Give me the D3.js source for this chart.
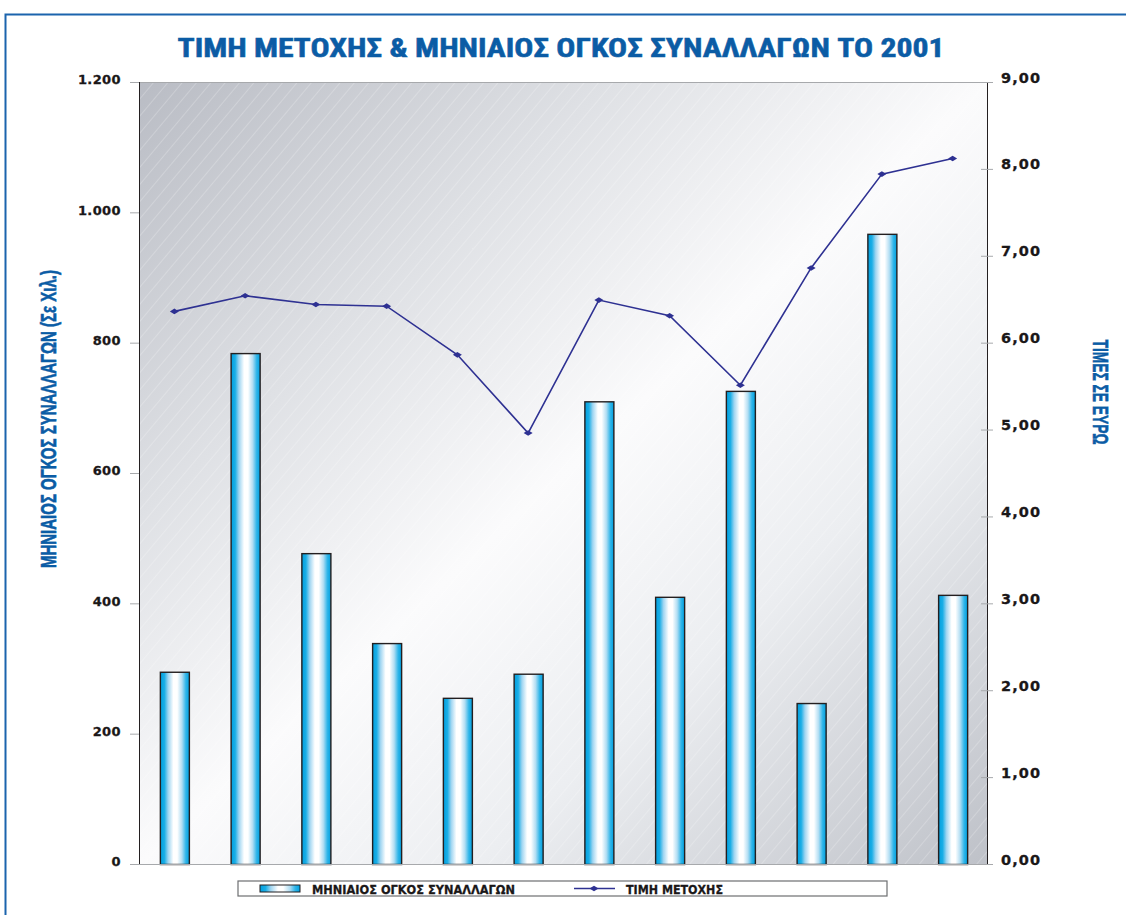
<!DOCTYPE html>
<html>
<head>
<meta charset="utf-8">
<script src="https://cdnjs.cloudflare.com/ajax/libs/d3/7.8.5/d3.min.js"></script>
<style>
  body { margin: 0; background: #fff; }
  svg { display: block; }
</style>
</head>
<body>
<div id="chart"></div>
<script>
var width = 1126,
    height = 915;

// data
var months = ["1", "2", "3", "4", "5", "6", "7", "8", "9", "10", "11", "12"];
var volume = [295, 784, 477, 339, 255, 292, 710, 410, 726, 247, 967, 413];
var price = [6.36, 6.54, 6.44, 6.42, 5.86, 4.96, 6.49, 6.31, 5.51, 6.86, 7.94, 8.12];
var leftTicks = [0, 200, 400, 600, 800, 1000, 1200];
var rightTicks = [0, 1, 2, 3, 4, 5, 6, 7, 8, 9];

var margin = {top: 82, right: 138, bottom: 51, left: 139};
var innerW = width - margin.left - margin.right,
    innerH = height - margin.top - margin.bottom;

var blue = "#0b5ca5",
    lineColor = "#2e3192",
    tickText = "#1a1718";

var svg = d3.select("#chart").append("svg")
    .attr("width", width)
    .attr("height", height);

var defs = svg.append("defs");

// plot background gradient (dark corners, light middle)
var bg = defs.append("linearGradient")
    .attr("id", "bgGrad")
    .attr("x1", "0%").attr("y1", "0%")
    .attr("x2", "100%").attr("y2", "100%");
bg.append("stop").attr("offset", "0%").attr("stop-color", "#b9bcc4");
bg.append("stop").attr("offset", "28%").attr("stop-color", "#dfe1e5");
bg.append("stop").attr("offset", "50%").attr("stop-color", "#fbfbfc");
bg.append("stop").attr("offset", "70%").attr("stop-color", "#eceef1");
bg.append("stop").attr("offset", "100%").attr("stop-color", "#bec1c8");

// faint diagonal hatching
var hatch = defs.append("pattern")
    .attr("id", "hatch")
    .attr("width", 11).attr("height", 11)
    .attr("patternUnits", "userSpaceOnUse")
    .attr("patternTransform", "rotate(40)");
hatch.append("line")
    .attr("x1", 0).attr("y1", 0).attr("x2", 0).attr("y2", 11)
    .attr("stroke", "#ffffff")
    .attr("stroke-opacity", 0.55)
    .attr("stroke-width", 0.8);

// bar gradient: blue edges, white centre
var barGrad = defs.append("linearGradient")
    .attr("id", "barGrad")
    .attr("x1", "0%").attr("y1", "0%")
    .attr("x2", "100%").attr("y2", "0%");
[["0%", "#009fdf"], ["14%", "#1aaee6"], ["27%", "#9fd5f1"], ["45%", "#ffffff"],
 ["58%", "#ffffff"], ["74%", "#b3def3"], ["88%", "#2fb5e9"], ["100%", "#009fdf"]]
    .forEach(function(s) {
        barGrad.append("stop").attr("offset", s[0]).attr("stop-color", s[1]);
    });

// outer frame
svg.append("path")
    .attr("d", "M5.5," + height + "V14.5H" + width)
    .attr("fill", "none")
    .attr("stroke", "#1b64ad")
    .attr("stroke-width", 2);

// title
svg.append("text")
    .attr("x", 561)
    .attr("y", 57)
    .attr("text-anchor", "middle")
    .attr("font-family", "'Liberation Sans Narrow', 'Roboto Condensed', sans-serif")
    .attr("font-weight", "bold")
    .attr("font-size", 25)
    .attr("textLength", 767)
    .attr("lengthAdjust", "spacingAndGlyphs")
    .attr("fill", blue)
    .attr("stroke", blue)
    .attr("stroke-width", 0.5)
    .text("ΤΙΜΗ ΜΕΤΟΧΗΣ & ΜΗΝΙΑΙΟΣ ΟΓΚΟΣ ΣΥΝΑΛΛΑΓΩΝ ΤΟ 2001");

var g = svg.append("g")
    .attr("transform", "translate(" + margin.left + "," + margin.top + ")");

var x = d3.scaleBand()
    .domain(months)
    .range([0, innerW])
    .paddingInner(0.59)
    .paddingOuter(0.295);

var yL = d3.scaleLinear().domain([0, 1200]).range([innerH, 0]);
var yR = d3.scaleLinear().domain([0, 9]).range([innerH, 0]);

g.append("rect")
    .attr("width", innerW)
    .attr("height", innerH)
    .attr("fill", "url(#bgGrad)");
g.append("rect")
    .attr("width", innerW)
    .attr("height", innerH)
    .attr("fill", "url(#hatch)");

// top border of plot
g.append("line")
    .attr("x1", 0).attr("x2", innerW)
    .attr("y1", 0.5).attr("y2", 0.5)
    .attr("stroke", "#a7a9ac");

// left axis
var axisL = d3.axisLeft(yL)
    .tickValues(leftTicks)
    .tickSize(9)
    .tickPadding(9)
    .tickFormat(function(d) { return d3.format(",")(d).replace(",", "."); });

var gL = g.append("g").call(axisL);
gL.select(".domain").attr("stroke", "#231f20").attr("d", "M0.5,0V" + innerH);
gL.selectAll(".tick line").attr("stroke", "#a7a9ac");
gL.selectAll(".tick text")
    .attr("font-family", "'DejaVu Sans', sans-serif")
    .attr("font-weight", "bold")
    .attr("font-size", 13)
    .attr("letter-spacing", 0.4)
    .attr("fill", tickText)
    .attr("stroke", tickText)
    .attr("stroke-width", 0.3)
    .attr("dy", "0.15em");

// right axis
var axisR = d3.axisRight(yR)
    .tickValues(rightTicks)
    .tickSize(5)
    .tickPadding(8)
    .tickFormat(function(d) { return d3.format(".2f")(d).replace(".", ","); });

var gR = g.append("g")
    .attr("transform", "translate(" + innerW + ",0)")
    .call(axisR);
gR.select(".domain").attr("stroke", "#231f20").attr("d", "M-0.5,0V" + innerH);
gR.selectAll(".tick line").attr("stroke", "#a7a9ac").attr("x1", -7);
gR.selectAll(".tick text")
    .attr("font-family", "'DejaVu Sans', sans-serif")
    .attr("font-weight", "bold")
    .attr("font-size", 14.5)
    .attr("letter-spacing", 1.1)
    .attr("fill", tickText)
    .attr("stroke", tickText)
    .attr("stroke-width", 0.3)
    .attr("dy", "0em");

// bars
g.append("g").selectAll("rect")
    .data(volume)
    .enter()
    .append("rect")
    .attr("x", function(d, i) { return x(months[i]) + 0.5; })
    .attr("y", function(d) { return yL(d) + 0.5; })
    .attr("width", x.bandwidth())
    .attr("height", function(d) { return innerH - yL(d); })
    .attr("fill", "url(#barGrad)")
    .attr("stroke", "#231f20")
    .attr("stroke-width", 1.4);

// baseline
g.append("line")
    .attr("x1", -6).attr("x2", innerW + 5)
    .attr("y1", innerH + 0.5).attr("y2", innerH + 0.5)
    .attr("stroke", "#a7a9ac")
    .attr("stroke-width", 1.2);

// price line
var line = d3.line()
    .x(function(d, i) { return x(months[i]) + x.bandwidth() / 2; })
    .y(function(d) { return yR(d); });

g.append("path")
    .datum(price)
    .attr("d", line)
    .attr("fill", "none")
    .attr("stroke", lineColor)
    .attr("stroke-width", 1.6);

var diamond = "M-4.5,0L0,-2.8L4.5,0L0,2.8Z";
g.append("g").selectAll("path")
    .data(price)
    .enter()
    .append("path")
    .attr("d", diamond)
    .attr("transform", function(d, i) {
        return "translate(" + (x(months[i]) + x.bandwidth() / 2) + "," + yR(d) + ")";
    })
    .attr("fill", lineColor);

// axis titles
svg.append("text")
    .attr("transform", "translate(56,419) rotate(-90)")
    .attr("text-anchor", "middle")
    .attr("font-family", "'Liberation Sans Narrow', sans-serif")
    .attr("font-weight", "bold")
    .attr("font-size", 22)
    .attr("textLength", 298)
    .attr("lengthAdjust", "spacingAndGlyphs")
    .attr("fill", blue)
    .attr("stroke", blue)
    .attr("stroke-width", 0.6)
    .text("ΜΗΝΙΑΙΟΣ ΟΓΚΟΣ ΣΥΝΑΛΛΑΓΩΝ (Σε Χιλ.)");

svg.append("text")
    .attr("transform", "translate(1093,392) rotate(90)")
    .attr("text-anchor", "middle")
    .attr("font-family", "'Liberation Sans Narrow', sans-serif")
    .attr("font-weight", "bold")
    .attr("font-size", 22)
    .attr("textLength", 105)
    .attr("lengthAdjust", "spacingAndGlyphs")
    .attr("fill", blue)
    .attr("stroke", blue)
    .attr("stroke-width", 0.6)
    .text("ΤΙΜΕΣ ΣΕ ΕΥΡΩ");

// legend
var leg = svg.append("g").attr("transform", "translate(238,881)");
leg.append("rect")
    .attr("width", 649).attr("height", 15)
    .attr("fill", "#fff")
    .attr("stroke", "#6d6e71")
    .attr("stroke-width", 1.2);
leg.append("rect")
    .attr("x", 22).attr("y", 4)
    .attr("width", 40).attr("height", 7)
    .attr("fill", "url(#barGrad)")
    .attr("stroke", "#231f20");
leg.append("text")
    .attr("x", 74).attr("y", 12.5)
    .attr("font-family", "'DejaVu Sans', sans-serif")
    .attr("font-weight", "bold")
    .attr("font-size", 12.5)
    .attr("textLength", 203)
    .attr("lengthAdjust", "spacingAndGlyphs")
    .attr("fill", tickText)
    .attr("stroke", tickText)
    .attr("stroke-width", 0.3)
    .text("ΜΗΝΙΑΙΟΣ ΟΓΚΟΣ ΣΥΝΑΛΛΑΓΩΝ");
leg.append("line")
    .attr("x1", 336).attr("x2", 377)
    .attr("y1", 7.5).attr("y2", 7.5)
    .attr("stroke", lineColor)
    .attr("stroke-width", 1.4);
leg.append("path")
    .attr("d", diamond)
    .attr("transform", "translate(356,7.5)")
    .attr("fill", lineColor);
leg.append("text")
    .attr("x", 388).attr("y", 12.5)
    .attr("font-family", "'DejaVu Sans', sans-serif")
    .attr("font-weight", "bold")
    .attr("font-size", 12.5)
    .attr("textLength", 97)
    .attr("lengthAdjust", "spacingAndGlyphs")
    .attr("fill", tickText)
    .attr("stroke", tickText)
    .attr("stroke-width", 0.3)
    .text("ΤΙΜΗ ΜΕΤΟΧΗΣ");
</script>
</body>
</html>
